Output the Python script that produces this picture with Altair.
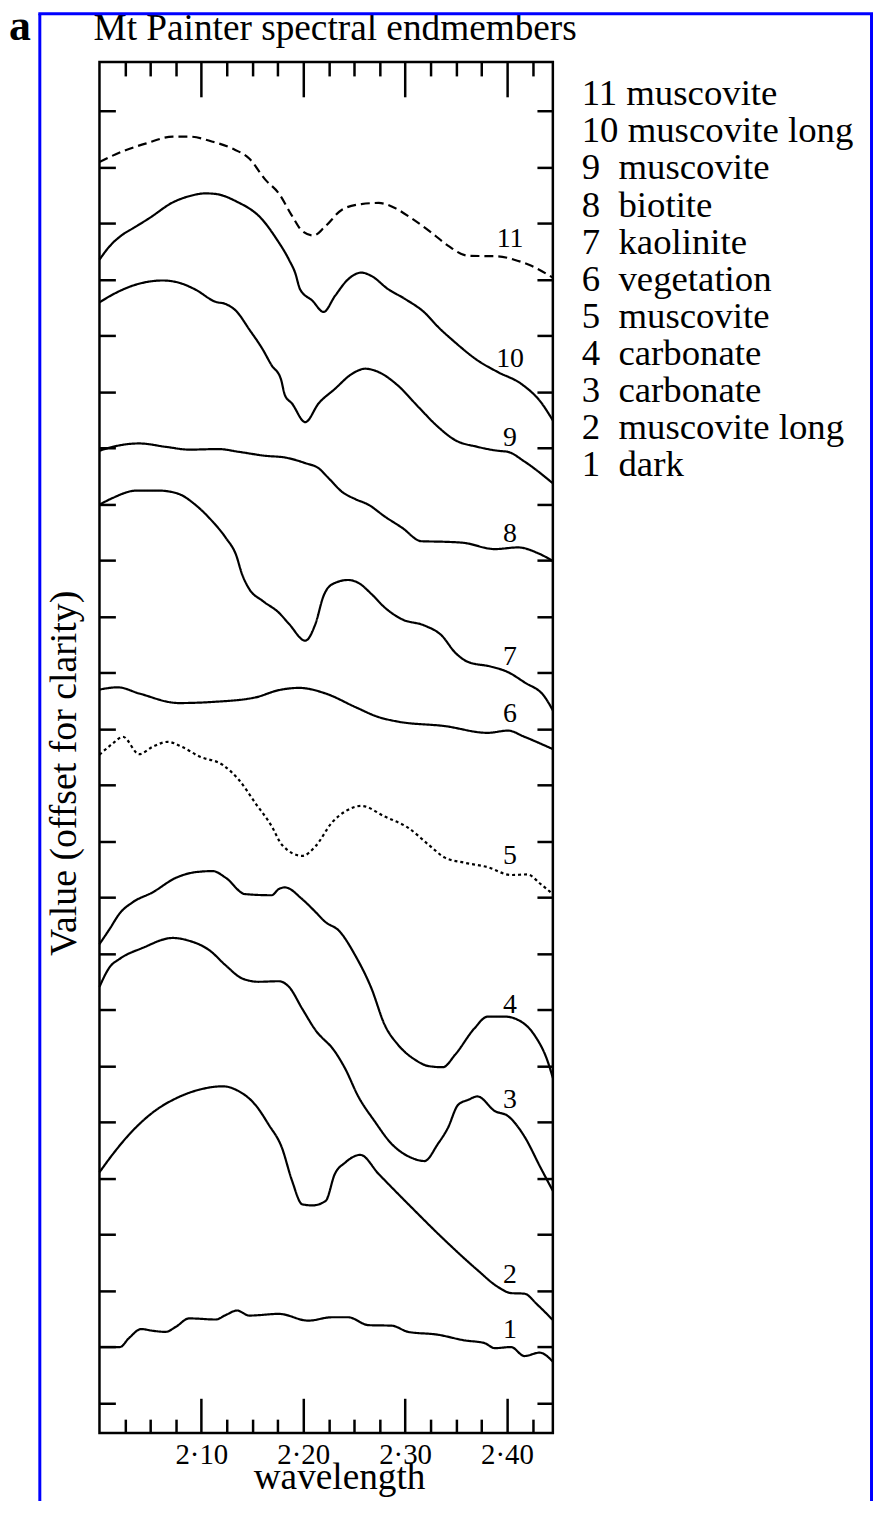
import altair as alt
import pandas as pd

FONT = "Liberation Serif"

# ---- legend / curve names (top to bottom) ----
SERIES = ["11 muscovite", "10 muscovite long", "9\u00a0 muscovite", "8\u00a0 biotite",
          "7\u00a0 kaolinite", "6\u00a0 vegetation", "5\u00a0 muscovite", "4\u00a0 carbonate",
          "3\u00a0 carbonate", "2\u00a0 muscovite long", "1\u00a0 dark"]
CURVE_NUMBERS = ["11", "10", "9", "8", "7", "6", "5", "4", "3", "2", "1"]

# ---- spectra (wavelength, offset value) ----
W11 = [2.000, 2.023, 2.046, 2.072, 2.088, 2.111, 2.130, 2.147, 2.163, 2.176, 2.189, 2.199, 2.210,
       2.222, 2.238, 2.257, 2.274, 2.290, 2.306, 2.326, 2.342, 2.362, 2.391, 2.407, 2.424, 2.445]
V11 = [22.09, 22.28, 22.42, 22.54, 22.54, 22.45, 22.33, 22.15, 21.77, 21.53, 21.13, 20.86, 20.78,
       20.95, 21.24, 21.34, 21.36, 21.27, 21.09, 20.83, 20.60, 20.42, 20.41, 20.35, 20.24, 20.03]

W10 = [2.000, 2.010, 2.023, 2.033, 2.049, 2.072, 2.088, 2.104, 2.114, 2.134, 2.160, 2.173, 2.186,
       2.192, 2.197, 2.209, 2.220, 2.231, 2.244, 2.257, 2.267, 2.283, 2.300, 2.319, 2.332, 2.349,
       2.371, 2.391, 2.414, 2.433, 2.445]
V10 = [20.35, 20.59, 20.80, 20.91, 21.09, 21.37, 21.48, 21.53, 21.52, 21.39, 21.06, 20.74, 20.35,
       20.12, 19.82, 19.62, 19.42, 19.70, 20.00, 20.12, 20.06, 19.83, 19.65, 19.41, 19.16, 18.88,
       18.56, 18.35, 18.14, 17.82, 17.49]

W9 = [2.000, 2.013, 2.033, 2.062, 2.078, 2.094, 2.114, 2.124, 2.134, 2.147, 2.160, 2.169, 2.178,
      2.182, 2.189, 2.202, 2.215, 2.231, 2.248, 2.261, 2.274, 2.293, 2.313, 2.332, 2.349, 2.371,
      2.391, 2.401, 2.417, 2.445]
V9 = [19.59, 19.73, 19.89, 19.98, 19.94, 19.82, 19.60, 19.56, 19.44, 19.11, 18.76, 18.47, 18.23,
      17.94, 17.79, 17.46, 17.79, 18.05, 18.32, 18.41, 18.35, 18.11, 17.73, 17.38, 17.14, 17.02,
      16.95, 16.93, 16.76, 16.37]

W8 = [2.000, 2.013, 2.039, 2.065, 2.088, 2.117, 2.137, 2.163, 2.182, 2.202, 2.215, 2.225, 2.238,
      2.251, 2.264, 2.280, 2.297, 2.316, 2.339, 2.358, 2.388, 2.411, 2.430, 2.445]
V8 = [16.95, 17.02, 17.08, 17.02, 16.97, 16.98, 16.93, 16.86, 16.83, 16.73, 16.64, 16.46, 16.22,
      16.09, 15.99, 15.78, 15.58, 15.34, 15.33, 15.31, 15.20, 15.23, 15.13, 14.99]

W7 = [2.000, 2.013, 2.036, 2.059, 2.078, 2.094, 2.111, 2.124, 2.134, 2.140, 2.147, 2.160, 2.176,
      2.186, 2.202, 2.212, 2.220, 2.228, 2.244, 2.254, 2.267, 2.280, 2.297, 2.319, 2.336, 2.349,
      2.362, 2.384, 2.401, 2.417, 2.437, 2.445]
V7 = [15.99, 16.11, 16.24, 16.24, 16.18, 15.99, 15.69, 15.40, 15.10, 14.75, 14.49, 14.28, 14.07,
      13.87, 13.57, 13.87, 14.37, 14.57, 14.65, 14.60, 14.40, 14.16, 13.95, 13.84, 13.66, 13.36,
      13.19, 13.11, 13.01, 12.83, 12.57, 12.33]

W6 = [2.000, 2.018, 2.039, 2.078, 2.111, 2.153, 2.176, 2.196, 2.222, 2.251, 2.274, 2.293, 2.339,
      2.381, 2.401, 2.417, 2.445]
V6 = [12.70, 12.74, 12.63, 12.46, 12.48, 12.56, 12.69, 12.73, 12.63, 12.39, 12.21, 12.13, 12.05,
      11.93, 11.97, 11.86, 11.64]

W5 = [2.000, 2.013, 2.023, 2.039, 2.052, 2.067, 2.081, 2.098, 2.121, 2.137, 2.153, 2.169, 2.179,
      2.199, 2.212, 2.228, 2.241, 2.257, 2.280, 2.303, 2.323, 2.339, 2.358, 2.381, 2.404, 2.420,
      2.433, 2.445]
V5 = [11.54, 11.74, 11.86, 11.55, 11.68, 11.77, 11.68, 11.51, 11.36, 11.09, 10.68, 10.27, 9.94,
      9.74, 9.91, 10.33, 10.53, 10.63, 10.44, 10.24, 9.94, 9.71, 9.62, 9.54, 9.40, 9.41,
      9.24, 9.06]

W4 = [2.000, 2.010, 2.020, 2.033, 2.052, 2.075, 2.094, 2.111, 2.124, 2.143, 2.169, 2.176, 2.182,
      2.199, 2.210, 2.222, 2.235, 2.251, 2.267, 2.280, 2.293, 2.310, 2.323, 2.337, 2.349, 2.368,
      2.381, 2.398, 2.411, 2.427, 2.440, 2.445]
V4 = [8.17, 8.44, 8.72, 8.92, 9.09, 9.35, 9.45, 9.47, 9.35, 9.06, 9.04, 9.15, 9.18,
      8.97, 8.78, 8.56, 8.41, 7.97, 7.38, 6.73, 6.38, 6.11, 6.00, 5.98, 6.20, 6.67,
      6.88, 6.88, 6.82, 6.55, 6.08, 5.79]

W3 = [2.000, 2.010, 2.020, 2.042, 2.072, 2.088, 2.108, 2.124, 2.140, 2.156, 2.176, 2.186, 2.199,
      2.212, 2.231, 2.241, 2.254, 2.270, 2.287, 2.306, 2.319, 2.332, 2.342, 2.352, 2.362, 2.371,
      2.388, 2.401, 2.417, 2.433, 2.445]
V3 = [7.41, 7.76, 7.91, 8.10, 8.28, 8.23, 8.06, 7.79, 7.56, 7.50, 7.51, 7.41, 7.02,
      6.64, 6.26, 5.96, 5.46, 5.02, 4.61, 4.37, 4.31, 4.61, 4.90, 5.31, 5.40, 5.46,
      5.20, 5.11, 4.75, 4.19, 3.78]

W2 = [2.000, 2.013, 2.029, 2.052, 2.078, 2.098, 2.121, 2.137, 2.153, 2.166, 2.179, 2.189, 2.199,
      2.209, 2.222, 2.231, 2.241, 2.256, 2.274, 2.306, 2.339, 2.371, 2.391, 2.404, 2.417, 2.430,
      2.445]
V2 = [4.11, 4.43, 4.78, 5.17, 5.45, 5.58, 5.64, 5.55, 5.31, 4.96, 4.55, 3.96, 3.54,
      3.52, 3.60, 4.08, 4.28, 4.42, 4.08, 3.49, 2.90, 2.37, 2.07, 1.96, 1.95, 1.75,
      1.48]

W1 = [2.000, 2.020, 2.029, 2.041, 2.052, 2.065, 2.075, 2.088, 2.114, 2.124, 2.135, 2.147, 2.176,
      2.205, 2.228, 2.244, 2.264, 2.287, 2.303, 2.332, 2.358, 2.378, 2.388, 2.404, 2.417, 2.432,
      2.445]
V1 = [1.00, 1.00, 1.16, 1.32, 1.29, 1.27, 1.36, 1.51, 1.49, 1.57, 1.65, 1.56, 1.59,
      1.47, 1.53, 1.53, 1.39, 1.38, 1.27, 1.22, 1.12, 1.07, 0.98, 1.00, 0.84, 0.90,
      0.74]

# curve number labels (position in data units)
LABEL_W = [2.403] * 11
LABEL_V = [20.71, 18.58, 17.17, 15.46, 13.28, 12.27, 9.74, 7.08, 5.40, 2.28, 1.30]

# ---- axis ticks ----
X_DOMAIN = [2.0, 2.445]
Y_DOMAIN = [-0.531, 23.868]
X_MAJOR = [2.10, 2.20, 2.30, 2.40]
X_MINOR = [2.025, 2.05, 2.075, 2.125, 2.15, 2.175, 2.225, 2.25, 2.275, 2.325, 2.35, 2.375, 2.425]
Y_TICKS = [0, 1, 2, 3, 4, 5, 6, 7, 8, 9, 10, 11, 12, 13, 14, 15, 16, 17, 18, 19, 20, 21, 22, 23]

# line styles (scale range for strokeDash)
DASHES = [[9, 5], [1, 0], [1, 0], [1, 0], [1, 0], [1, 0], [3, 3], [1, 0], [1, 0], [1, 0], [1, 0]]

CURVES = [(W11, V11), (W10, V10), (W9, V9), (W8, V8), (W7, V7), (W6, V6),
          (W5, V5), (W4, V4), (W3, V3), (W2, V2), (W1, V1)]

rows = []
for name, (ws, vs) in zip(SERIES, CURVES):
    for w, v in zip(ws, vs):
        rows.append({"wavelength": w, "value": v, "series": name})
df = pd.DataFrame(rows)
df_dash = df[df["series"] == SERIES[0]]
df_dot = df[df["series"] == SERIES[6]]
df_solid = df[~df["series"].isin([SERIES[0], SERIES[6]])]

df_labels = pd.DataFrame({"wavelength": LABEL_W, "value": LABEL_V, "num": CURVE_NUMBERS})

xsc = alt.Scale(domain=X_DOMAIN, nice=False, zero=False)
ysc = alt.Scale(domain=Y_DOMAIN, nice=False, zero=False)
dash_scale = alt.Scale(domain=SERIES, range=DASHES)

legend = alt.Legend(title=None, orient="none", legendX=448, legendY=14, padding=0,
                    labelFont=FONT, labelFontSize=37, labelColor="black", labelLimit=500,
                    labelOffset=0, symbolSize=0, symbolStrokeWidth=0, symbolOpacity=0,
                    rowPadding=alt.ExprRef(expr="-0.7"))

tick_style = dict(domain=False, grid=False, tickColor="black", tickWidth=2.5)

ax_bottom_major = alt.Axis(
    orient="bottom", values=X_MAJOR, tickSize=35, offset=-35,
    labelExpr="replace(format(datum.value, '.2f'), '.', '\u00b7')",
    labelFont=FONT, labelFontSize=29, labelColor="black", labelPadding=8,
    title="wavelength", titleFont=FONT, titleFontSize=37.5, titleFontWeight="normal",
    titleColor="black", titleX=241, titleY=91, titleBaseline="alphabetic", **tick_style)
ax_bottom_minor = alt.Axis(orient="bottom", values=X_MINOR, tickSize=14, offset=-14,
                           labels=False, title=None, **tick_style)
ax_top_major = alt.Axis(orient="top", values=X_MAJOR, tickSize=35, offset=-35,
                        labels=False, title=None, **tick_style)
ax_top_minor = alt.Axis(orient="top", values=X_MINOR, tickSize=14, offset=-14,
                        labels=False, title=None, **tick_style)
ax_left = alt.Axis(
    orient="left", values=Y_TICKS, tickSize=16, offset=-16, labels=False,
    title="Value (offset for clarity)", titleFont=FONT, titleFontSize=38,
    titleFontWeight="normal", titleColor="black", titleX=-40, titleY=715,
    titleBaseline="alphabetic", titleAngle=270, **tick_style)
ax_right = alt.Axis(orient="right", values=Y_TICKS, tickSize=16, offset=-16,
                    labels=False, title=None, **tick_style)


def line_layer(data, xaxis, yaxis):
    return alt.Chart(data).mark_line(
        color="black", strokeWidth=2.2, interpolate="monotone"
    ).encode(
        x=alt.X("wavelength:Q", scale=xsc, axis=xaxis),
        y=alt.Y("value:Q", scale=ysc, axis=yaxis),
        strokeDash=alt.StrokeDash("series:N", scale=dash_scale, legend=legend, sort=SERIES),
    )


solid = line_layer(df_solid, ax_bottom_major, ax_left)
dashed = line_layer(df_dash, ax_top_major, None)
dotted = line_layer(df_dot, ax_top_minor, None)

labels = alt.Chart(df_labels).mark_text(
    font=FONT, fontSize=28, color="black", align="center", baseline="middle"
).encode(
    x=alt.X("wavelength:Q", scale=xsc, axis=ax_bottom_minor),
    y=alt.Y("value:Q", scale=ysc, axis=ax_right),
    text="num:N",
)

deco = alt.Data(values=[{"k": 0}])
title_text = alt.Chart(deco).mark_text(
    text="Mt Painter spectral endmembers", font=FONT, fontSize=37.5, color="black",
    align="left", baseline="alphabetic"
).encode(x=alt.value(-6), y=alt.value(-22))
panel_letter = alt.Chart(deco).mark_text(
    text="a", font=FONT, fontSize=44, fontWeight="bold", color="black",
    align="left", baseline="alphabetic"
).encode(x=alt.value(-91), y=alt.value(-22))
frame_left = alt.Chart(deco).mark_rule(color="#0000ff", strokeWidth=3).encode(
    x=alt.value(-60), y=alt.value(-48.5), y2=alt.value(1450))
frame_top = alt.Chart(deco).mark_rule(color="#0000ff", strokeWidth=3).encode(
    x=alt.value(-61.5), x2=alt.value(778), y=alt.value(-48.5))
frame_right = alt.Chart(deco).mark_rule(color="#0000ff", strokeWidth=3).encode(
    x=alt.value(776.5), y=alt.value(-48.5), y2=alt.value(1450))

chart = alt.layer(
    solid, dashed, dotted, labels, title_text, panel_letter, frame_left, frame_top, frame_right
).resolve_axis(
    x="independent", y="independent"
).properties(
    width=456, height=1379,
    padding={"left": 92, "top": 50, "right": 322, "bottom": 64},
    autosize=alt.AutoSizeParams(type="none"),
).configure_view(
    stroke="black", strokeWidth=2.5
)

chart.save("out.html", embed_options={"renderer": "svg", "actions": False})
